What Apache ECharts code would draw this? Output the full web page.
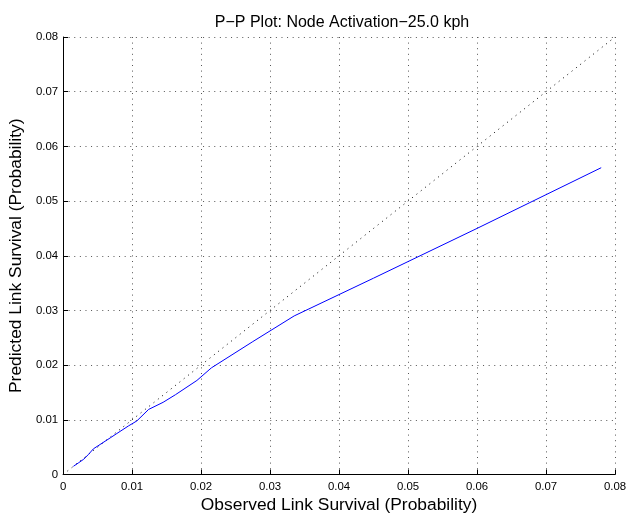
<!DOCTYPE html>
<html>
<head>
<meta charset="utf-8">
<script src="https://cdn.jsdelivr.net/npm/echarts@6/dist/echarts.min.js"></script>
<style>html,body{margin:0;padding:0;background:#fff}#c{width:640px;height:519px}</style>
</head>
<body>
<div id="c"></div>
<script>
const titleText = 'P\u2212P Plot: Node Activation\u221225.0 kph';
const xTitle = 'Observed Link Survival (Probability)';
const yTitle = 'Predicted Link Survival (Probability)';
const observed = [0.0015, 0.0022, 0.003, 0.0037, 0.0044, 0.0055, 0.0069, 0.0078, 0.0095, 0.0107, 0.0124, 0.0145, 0.0163, 0.0194, 0.0215, 0.0275, 0.0335, 0.045, 0.06, 0.078];
const predicted = [0.0015, 0.0021, 0.0028, 0.0037, 0.0047, 0.0056, 0.00675, 0.0075, 0.0089, 0.0098, 0.0119, 0.0132, 0.0146, 0.0172, 0.0195, 0.0243, 0.029, 0.0359, 0.045, 0.0561];
const refLine = [0, 0.08];
const axisMin = 0, axisMax = 0.08, axisStep = 0.01;

const chart = echarts.init(document.getElementById('c'));
const fmt = v => v === 0 ? '0' : v.toFixed(2);
const font = '"Liberation Sans", Arial, sans-serif';
const gridLine = {show: true, lineStyle: {color: '#555', width: 1, type: [1, 4.6]}};
chart.setOption({
  animation: false,
  backgroundColor: '#fff',
  title: {text: titleText, left: 337, top: 10, textAlign: 'center',
    textStyle: {fontFamily: font, fontWeight: 'normal', fontSize: 16, color: '#000'}},
  grid: {left: 59.5, right: 25, top: 37, bottom: 44.5, show: false},
  xAxis: {type: 'value', min: axisMin, max: axisMax, interval: axisStep,
    name: xTitle, nameLocation: 'middle', nameGap: 20,
    nameTextStyle: {fontFamily: font, fontSize: 17.4, color: '#000'},
    axisLine: {show: true, onZero: false, lineStyle: {color: '#000', width: 1}},
    axisTick: {show: true, inside: true, length: 5, lineStyle: {color: '#000'}},
    axisLabel: {formatter: fmt, fontFamily: font, fontSize: 11.4, color: '#000', margin: 6.5},
    splitLine: gridLine},
  yAxis: {type: 'value', min: axisMin, max: axisMax, interval: axisStep,
    name: yTitle, nameLocation: 'middle', nameGap: 30.5, nameRotate: 90,
    nameTextStyle: {fontFamily: font, fontSize: 17.4, color: '#000'},
    axisLine: {show: true, onZero: false, lineStyle: {color: '#000', width: 1}},
    axisTick: {show: true, inside: true, length: 5, lineStyle: {color: '#000'}},
    axisLabel: {formatter: fmt, fontFamily: font, fontSize: 11.4, color: '#000', margin: 5},
    splitLine: gridLine},
  series: [
    {type: 'line', data: refLine.map(v => [v, v]), symbol: 'none', silent: true,
      lineStyle: {color: '#000', width: 1, type: [1, 4.5]}},
    {type: 'line', data: observed.map((v, i) => [v, predicted[i]]), symbol: 'none',
      lineStyle: {color: '#0000ff', width: 1}}
  ]
});
</script>
</body>
</html>
